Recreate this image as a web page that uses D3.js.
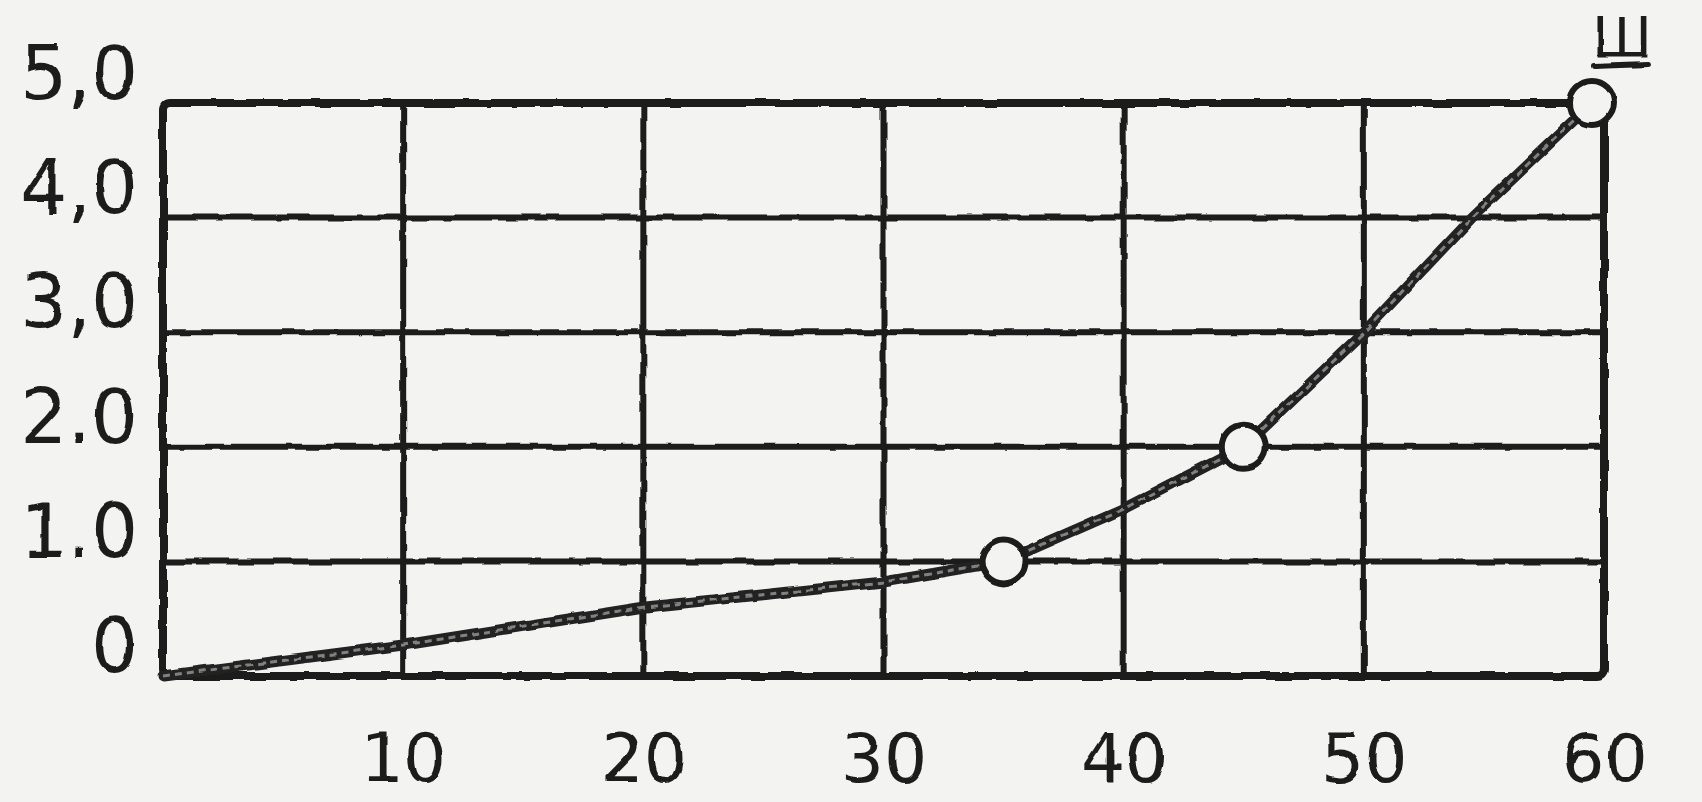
<!DOCTYPE html>
<html>
<head>
<meta charset="utf-8">
<script src="https://cdn.jsdelivr.net/npm/d3@7"></script>
<style>
  html, body { margin: 0; padding: 0; background: #f3f3f1; }
  svg { display: block; }
</style>
</head>
<body>
<svg id="chart" width="1702" height="802"></svg>
<script>
// values
var xTicks      = [10, 20, 30, 40, 50, 60];
var xTickLabels = ["10", "20", "30", "40", "50", "60"];
var yTicks      = [0, 1, 2, 3, 4, 5];
var yTickLabels = ["0", "1.0", "2.0", "3,0", "4,0", "5,0"];

var curveX  = [0, 10, 20, 30, 35, 40, 45, 50, 54.5, 59.5];
var curveY  = [0, 0.27, 0.6, 0.82, 1.0, 1.46, 2.0, 3.0, 4.0, 5.0];
var markerX = [35, 45, 59.5];
var markerY = [1.0, 2.0, 5.0];
var seriesLabel = "Ш";

var ink = "#1b1b1b";
var paper = "#f3f3f1";

var svg = d3.select("#chart");

var defs = svg.append("defs");
var rough = defs.append("filter").attr("id", "rough")
    .attr("x", "-5%").attr("y", "-5%").attr("width", "110%").attr("height", "110%");
rough.append("feTurbulence").attr("type", "fractalNoise")
    .attr("baseFrequency", 0.04).attr("numOctaves", 2).attr("seed", 3).attr("result", "n");
rough.append("feDisplacementMap").attr("in", "SourceGraphic").attr("in2", "n")
    .attr("scale", 4).attr("xChannelSelector", "R").attr("yChannelSelector", "G");

var x = d3.scaleLinear().domain([0, 60]).range([163, 1604]);
var y = d3.scaleLinear().domain([0, 5]).range([676, 103]);

var g = svg.append("g").attr("filter", "url(#rough)");

// grid
g.selectAll(".vgrid").data(xTicks.filter(function(d) { return d < 60; }))
  .enter().append("line")
    .attr("x1", function(d) { return x(d); })
    .attr("x2", function(d) { return x(d); })
    .attr("y1", y(5)).attr("y2", y(0))
    .attr("stroke", ink).attr("stroke-width", 6);

g.selectAll(".hgrid").data(yTicks.filter(function(d) { return d > 0 && d < 5; }))
  .enter().append("line")
    .attr("x1", x(0)).attr("x2", x(60))
    .attr("y1", function(d) { return y(d); })
    .attr("y2", function(d) { return y(d); })
    .attr("stroke", ink).attr("stroke-width", 6);

// frame
g.append("rect")
    .attr("x", x(0)).attr("y", y(5))
    .attr("width", x(60) - x(0)).attr("height", y(0) - y(5))
    .attr("rx", 7)
    .attr("fill", "none").attr("stroke", ink).attr("stroke-width", 8);

// curve
var pts = curveX.map(function(d, i) { return [d, curveY[i]]; });
var line = d3.line()
    .x(function(d) { return x(d[0]); })
    .y(function(d) { return y(d[1]); });

g.append("path").datum(pts)
    .attr("d", line)
    .attr("fill", "none").attr("stroke", "#222")
    .attr("stroke-width", 11).attr("stroke-linejoin", "round").attr("stroke-linecap", "round");
g.append("path").datum(pts)
    .attr("d", line)
    .attr("fill", "none").attr("stroke", "#aaa").attr("stroke-opacity", 0.7)
    .attr("stroke-width", 3).attr("stroke-dasharray", "7 5");

// open circles
g.selectAll(".mark").data(markerX)
  .enter().append("circle")
    .attr("cx", function(d) { return x(d); })
    .attr("cy", function(d, i) { return y(markerY[i]); })
    .attr("r", 22)
    .attr("fill", paper).attr("stroke", ink).attr("stroke-width", 6);

// y labels
var yAxis = g.append("g").attr("transform", "translate(138,0)")
    .call(d3.axisLeft(y).tickValues(yTicks)
      .tickFormat(function(d, i) { return yTickLabels[i]; })
      .tickSize(0).tickPadding(0));
yAxis.select(".domain").remove();
yAxis.selectAll("text")
    .attr("dy", "-0.06em")
    .attr("fill", ink)
    .style("font-family", "DejaVu Sans, sans-serif")
    .style("font-size", "74px");

// x labels
var xAxis = g.append("g").attr("transform", "translate(0,782)")
    .call(d3.axisBottom(x).tickValues(xTicks)
      .tickFormat(function(d, i) { return xTickLabels[i]; })
      .tickSize(0).tickPadding(0));
xAxis.select(".domain").remove();
xAxis.selectAll("text")
    .attr("y", 0).attr("dy", "0")
    .attr("fill", ink)
    .style("font-family", "DejaVu Sans, sans-serif")
    .style("font-size", "68px");

// series mark, underlined
var lx = x(59.5) + 30;
g.append("text")
    .attr("x", lx).attr("y", 56)
    .attr("text-anchor", "middle")
    .attr("fill", ink)
    .style("font-family", "DejaVu Sans, sans-serif")
    .style("font-size", "56px")
    .text(seriesLabel);
g.append("line")
    .attr("x1", lx - 28).attr("x2", lx + 26)
    .attr("y1", 66).attr("y2", 64)
    .attr("stroke", ink).attr("stroke-width", 6).attr("stroke-linecap", "round");
</script>
</body>
</html>
